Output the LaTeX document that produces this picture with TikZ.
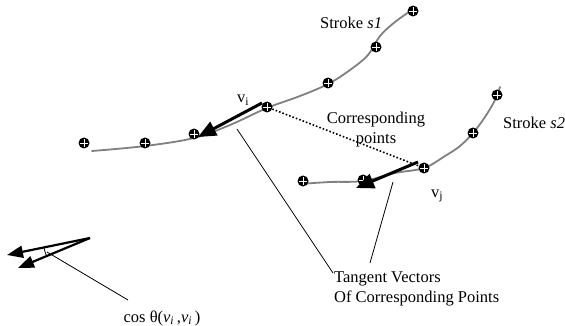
\documentclass[tikz,border=0pt]{standalone}
\usepackage{fontspec}
\setmainfont{Liberation Serif}
\usetikzlibrary{arrows.meta}

\tikzset{
  knot/.style={circle, fill=black, inner sep=0pt, minimum size=11pt,
    path picture={\draw[white, line width=0.8pt]
      ([yshift=-1.5pt]path picture bounding box.north) -- ([yshift=1.5pt]path picture bounding box.south)
      ([xshift=1.5pt]path picture bounding box.west) -- ([xshift=-1.5pt]path picture bounding box.east);}},
  stroke/.style={draw=gray, line width=1.8pt, line cap=round},
  tangent/.style={line width=3pt, -{Triangle[length=18pt, width=15pt]}},
  leader/.style={line width=0.8pt},
  lbl/.style={font=\fontsize{16.5}{20}\selectfont, inner sep=0pt}
}

\begin{document}
\begin{tikzpicture}[x=1pt, y=-1pt]
\useasboundingbox (0,0) rectangle (565,326);

% stroke s1
\draw[stroke] plot[smooth, tension=0.6] coordinates {(92,151) (145,146) (194,138) (230,125) (267,108) (300,96) (328,84) (350,70) (368,55) (380,36) (395,22) (412,10)};
\node[knot] (a1) at (84,143) {};
\node[knot] (a2) at (145,143) {};
\node[knot] (a3) at (194,134) {};
\node[knot] (vi) at (267,107) {};
\node[knot] (a5) at (328,83) {};
\node[knot] (a6) at (376,47) {};
\node[knot] (a7) at (413,11) {};

% stroke s2
\draw[stroke] plot[smooth, tension=0.6] coordinates {(300,184) (330,182) (363,181) (395,173) (424,168) (445,156) (460,146) (473,133) (485,117) (495,100) (500,87)};
\node[knot] (b1) at (303,181) {};
\node[knot] (b2) at (363,180) {};
\node[knot] (vj) at (424,168) {};
\node[knot] (b4) at (473,133) {};
\node[knot] (b5) at (497,95) {};

% tangent vectors
\coordinate (ti) at (198,137);
\coordinate (tj) at (356,188);
\draw[tangent] ([xshift=-5pt, yshift=4pt]vi.center) -- (ti);
\draw[tangent] ([xshift=-6pt, yshift=6pt]vj.center) -- (tj);

% corresponding points
\draw[dotted, line width=1.6pt] (vi) -- (vj);
\node[lbl, align=center] (corr) at (376,130) {Corresponding\\points};

\node[lbl] (li) at (243,100) {v\textsubscript{i}};
\node[lbl] (lj) at (437,196) {v\textsubscript{j}};
\node[lbl, anchor=west] (s1) at (320,23) {Stroke \textit{s1}};
\node[lbl, anchor=west] (s2) at (503,123) {Stroke \textit{s2}};

% leaders to the tangents
\node[lbl, align=left, anchor=west] (tv) at (334,289) {Tangent Vectors\\Of Corresponding Points};
\coordinate (p1) at (237,129);
\coordinate (p2) at (393,182);
\draw[leader] (p1) -- (333,273);
\draw[leader] (p2) -- (370,263);

% angle between the vectors
\coordinate (o) at (90,238);
\coordinate (u1) at (7,255);
\coordinate (u2) at (18,268);
\draw[line width=2.2pt, -{Triangle[length=16pt, width=12pt]}] (o) -- (u1);
\draw[line width=2.2pt, -{Triangle[length=16pt, width=12pt]}] (o) -- (u2);
\draw[leader] (43.9,247.4) arc[start angle=168.45, end angle=157.4, radius=47];
\node[lbl] (cos) at (162,318) {cos θ(\textit{v}\textsubscript{\textit{i}}\,,\textit{v}\textsubscript{\textit{i}}\,)};
\draw[leader] (47,252) -- (128,300);
\end{tikzpicture}
\end{document}
